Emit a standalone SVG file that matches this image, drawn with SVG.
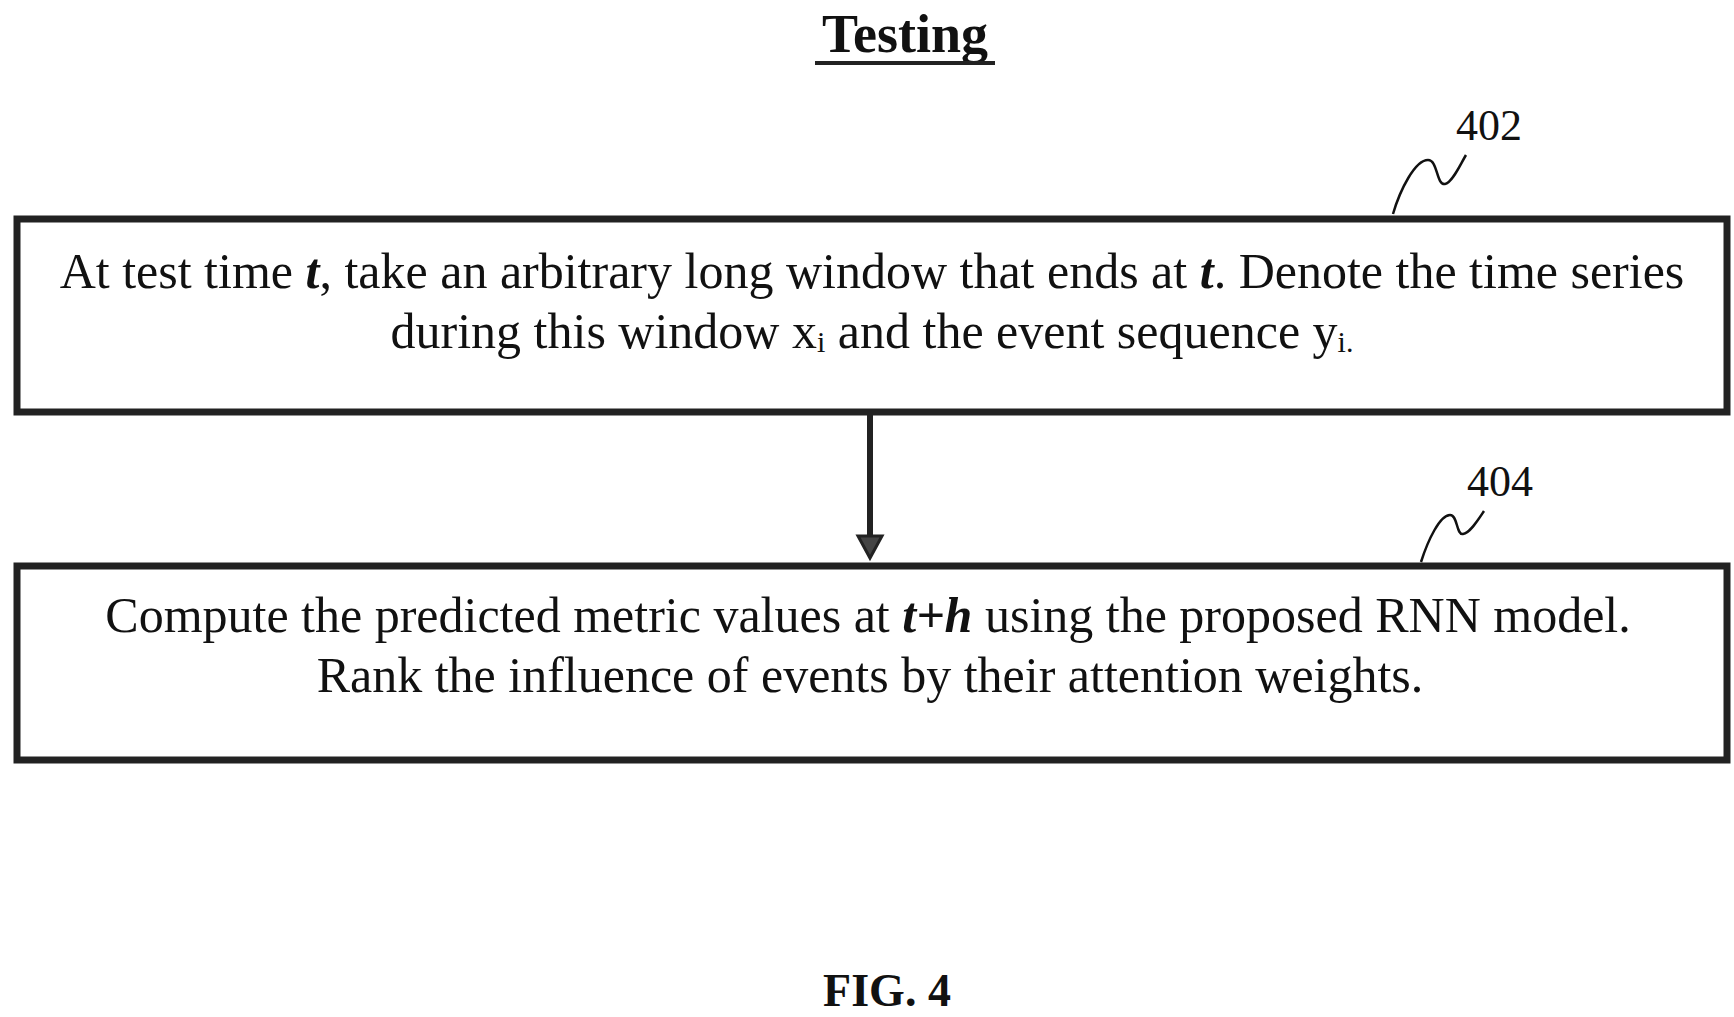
<svg xmlns="http://www.w3.org/2000/svg" width="1734" height="1017" viewBox="0 0 1734 1017">
<style>
text{font-family:"Liberation Serif","Times New Roman",serif;fill:#111}
.box{fill:#fff;stroke:#222;stroke-width:7}
.t{font-size:50px;text-anchor:middle}
.lbl{font-size:44px;text-anchor:middle}
.sq{fill:none;stroke:#111;stroke-width:2.5}
</style>
<rect width="1734" height="1017" fill="#fff"/>
<text x="905" y="52" font-size="54" font-weight="bold" text-anchor="middle">Testing</text>
<line x1="815" y1="63" x2="995" y2="63" stroke="#222" stroke-width="4"/>
<g id="n402">
<rect class="box" x="17" y="219" width="1710" height="193"/>
<text class="t" x="872" y="288">At test time <tspan font-style="italic" font-weight="bold">t</tspan>, take an arbitrary long window that ends at <tspan font-style="italic" font-weight="bold">t</tspan>. Denote the time series</text>
<text class="t" x="872" y="348">during this window x<tspan font-size="30" dy="4">i</tspan><tspan dy="-4"> and the event sequence y</tspan><tspan font-size="30" dy="4">i</tspan><tspan font-size="30">.</tspan></text>
<text class="lbl" x="1489" y="140">402</text>
<path class="sq" d="M1393,214 C1400,190 1415,160 1428,160 C1438,160 1436,185 1445,184 C1452,183 1460,165 1466,155"/>
</g>
<g id="n404">
<rect class="box" x="17" y="566" width="1710" height="194"/>
<text class="t" x="868" y="632">Compute the predicted metric values at <tspan font-style="italic" font-weight="bold">t+h</tspan> using the proposed RNN model.</text>
<text class="t" x="870" y="692">Rank the influence of events by their attention weights.</text>
<text class="lbl" x="1500" y="496">404</text>
<path class="sq" d="M1421,562 C1428,540 1440,515 1450,515 C1458,515 1456,535 1463,534 C1470,533 1478,520 1484,511"/>
</g>
<g id="connectors">
<line x1="870" y1="414" x2="870" y2="540" stroke="#222" stroke-width="6"/>
<path d="M858,536 L882,536 L870,558 z" fill="#444" stroke="#222" stroke-width="3"/>
</g>
<text x="887" y="1006" font-size="46" font-weight="bold" text-anchor="middle">FIG. 4</text>
</svg>
